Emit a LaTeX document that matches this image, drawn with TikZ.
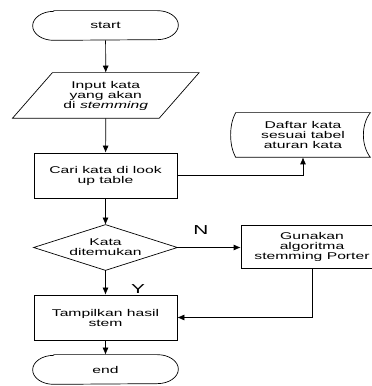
\documentclass[tikz,border=0pt]{standalone}
\usepackage{fontspec}
\setmainfont{Liberation Sans}[FakeStretch=1.6]
\usetikzlibrary{arrows.meta}

% outline of a start/end box, ends are half ellipses
\newcommand\drawterm[1]{%
  \draw ([xshift=21pt]#1.north west) -- ([xshift=-21pt]#1.north east)
    arc[start angle=90,end angle=-90,x radius=21pt,y radius=14.5pt]
    -- ([xshift=21pt]#1.south west)
    arc[start angle=270,end angle=90,x radius=21pt,y radius=14.5pt] -- cycle;}

\begin{document}
\begin{tikzpicture}[x=1pt,y=1pt,line width=.7pt,
    txt/.style={align=center,inner sep=0pt,font=\fontsize{9.8}{10}\selectfont},
    term/.style={txt,minimum width=145pt,minimum height=29pt},
    proc/.style={txt,draw,minimum width=143pt,minimum height=45pt},
    lbl/.style={inner sep=0pt,font=\fontsize{13}{13}\selectfont},
    arr/.style={-{Latex[length=7pt,width=6pt]}}]
    \useasboundingbox (0,0) rectangle (372,386);
    \clip (0,0) rectangle (372,386);
    % nodes
    \node[term] (st) at (105.5,360.5) {start};
    \node[txt,minimum width=146pt,minimum height=45pt] (inp) at (105.75,290.5) {Input kata\\yang akan\\di \textit{stemming}};
    \node[proc] (cari) at (105.5,210.5) {Cari kata di look\\up table};
    \node[txt,minimum width=134pt,minimum height=44pt] (tbl) at (303,251) {Daftar kata\\sesuai tabel\\aturan kata};
    \node[txt,minimum width=143pt,minimum height=45pt] (dit) at (105.5,138.5) {Kata\\ditemukan};
    \node[proc,minimum width=142pt,minimum height=43pt] (gun) at (312,139.5) {Gunakan\\algoritma\\stemming Porter};
    \node[proc] (tam) at (105.5,68.5) {Tampilkan hasil\\stem};
    \node[term] (en) at (105.5,16.5) {end};
    \node[lbl] (n) at (201,156) {N};
    \node[lbl] (y) at (138,97) {Y};
    % outlines
    \drawterm{st}
    \drawterm{en}
    \draw ([xshift=20pt]inp.north west) -- ([xshift=20pt]inp.north east)
      -- ([xshift=-20pt]inp.south east) -- ([xshift=-20pt]inp.south west) -- cycle;
    \draw (tbl.south west) .. controls +(-6.7,12) and +(-6.7,-12) .. (tbl.north west)
      -- (tbl.north east) .. controls +(-9.3,-12) and +(-9.3,12) .. (tbl.south east) -- cycle;
    \draw (dit.north) -- (dit.east) -- (dit.south) -- (dit.west) -- cycle;
    % connectors
    \draw[arr] (st) -- (inp.north);
    \draw[arr] (inp.south) -- (cari);
    \draw[arr] (cari.east) -| (tbl.south);
    \draw[arr] (cari) -- (dit.north);
    \draw[arr] (dit.east) -- (dit.east -| gun.west);
    \draw[arr] (dit.south) -- (tam);
    \draw[arr] (gun.south) |- (tam.east);
    \draw[arr] (tam) -- (en);
\end{tikzpicture}
\end{document}
